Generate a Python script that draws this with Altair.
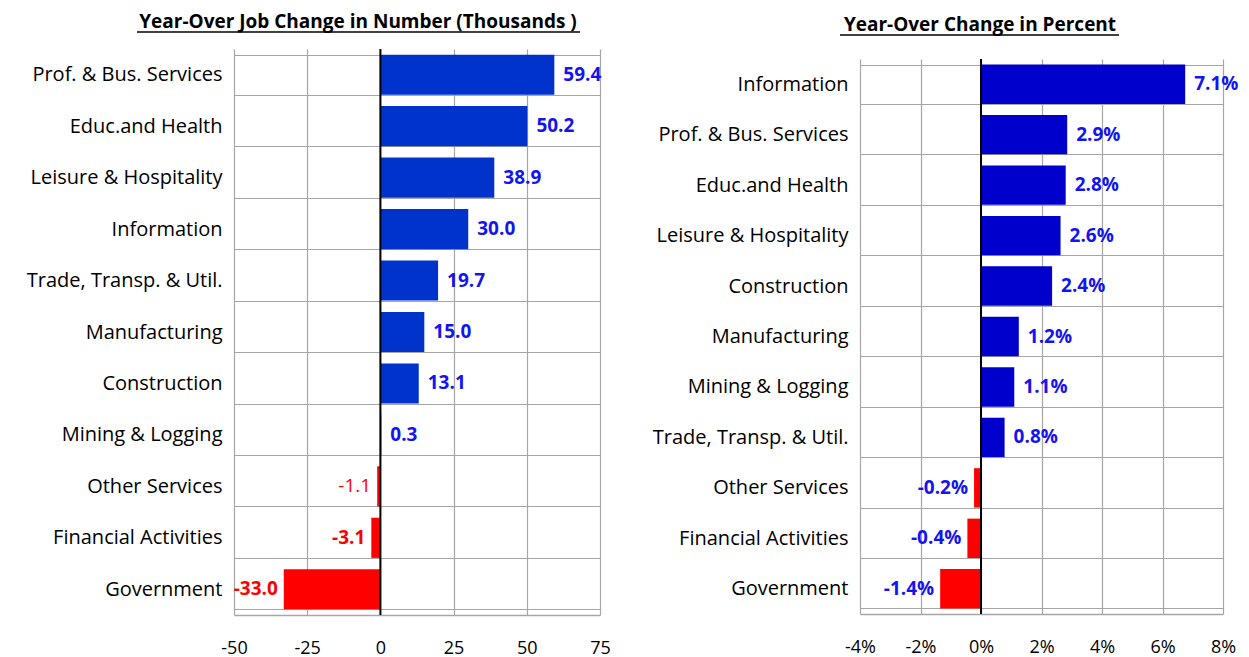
import altair as alt
import pandas as pd

FONT = "Open Sans"

num_categories = ["Prof. & Bus. Services", "Educ.and Health", "Leisure & Hospitality",
                  "Information", "Trade, Transp. & Util.", "Manufacturing", "Construction",
                  "Mining & Logging", "Other Services", "Financial Activities", "Government"]
num_values = [59.4, 50.2, 38.9, 30.0, 19.7, 15.0, 13.1, 0.3, -1.1, -3.1, -33.0]
num_ticks = [-50, -25, 0, 25, 50, 75]

pct_categories = ["Information", "Prof. & Bus. Services", "Educ.and Health",
                  "Leisure & Hospitality", "Construction", "Manufacturing", "Mining & Logging",
                  "Trade, Transp. & Util.", "Other Services", "Financial Activities", "Government"]
pct_values = [6.75, 2.85, 2.8, 2.63, 2.35, 1.25, 1.1, 0.78, -0.23, -0.45, -1.35]
pct_labels = ["7.1%", "2.9%", "2.8%", "2.6%", "2.4%", "1.2%", "1.1%", "0.8%", "-0.2%", "-0.4%", "-1.4%"]
pct_ticks = [-4, -2, 0, 2, 4, 6, 8]

GRID = "#A6A6A6"
LBL_BLUE = "#1414F0"
YLAB = 20
VLAB = 19
XLAB = 18

df_num = pd.DataFrame({"cat": num_categories, "value": num_values})
df_num["label"] = [f"{v:.1f}" for v in num_values]
df_pct = pd.DataFrame({"cat": pct_categories, "value": pct_values, "label": pct_labels})


def make_panel(df, cats, domain, ticks, w, h, extent, bar_blue, label_expr, neg_color, xpad):
    y = alt.Y("cat:N", sort=cats, title=None,
              scale=alt.Scale(paddingInner=0.22, paddingOuter=0.11),
              axis=alt.Axis(labelFont=FONT, labelFontSize=YLAB, labelColor="black",
                            labelPadding=12, ticks=False, domain=False, grid=True,
                            gridColor=GRID, gridWidth=1.2, tickBand="extent",
                            minExtent=extent, maxExtent=extent, labelLimit=400))
    x = alt.X("value:Q", title=None,
              scale=alt.Scale(domain=domain, nice=False, zero=False),
              axis=alt.Axis(values=ticks, grid=True, gridColor=GRID, gridWidth=1.2,
                            ticks=False, domain=True, domainColor=GRID, domainWidth=1.5,
                            labelFont=FONT, labelFontSize=XLAB, labelColor="black",
                            labelPadding=xpad, labelExpr=label_expr, labelFlush=False,
                            labelOverlap=False))
    base = alt.Chart(df)
    bars = base.mark_bar().encode(
        y=y, x=x, x2=alt.datum(0),
        color=alt.condition("datum.value > 0", alt.value(bar_blue), alt.value("#FF0000")))
    zero = alt.Chart(pd.DataFrame({"z": [0]})).mark_rule(color="black", strokeWidth=2).encode(
        x=alt.X("z:Q", scale=alt.Scale(domain=domain, nice=False, zero=False)))
    pos = base.transform_filter("datum.value >= 0").mark_text(
        align="left", baseline="middle", dx=9, font=FONT, fontSize=VLAB, fontWeight="bold",
        color=LBL_BLUE).encode(y=alt.Y("cat:N", sort=cats), x="value:Q", text="label:N")
    neg_bold = base.transform_filter("datum.value < 0 && datum.value != -1.1").mark_text(
        align="right", baseline="middle", dx=-6, font=FONT, fontSize=VLAB, fontWeight="bold",
        color=neg_color).encode(y=alt.Y("cat:N", sort=cats), x="value:Q", text="label:N")
    layers = [bars, zero, pos, neg_bold]
    if neg_color == "#FF0000":
        neg_plain = base.transform_filter("datum.value == -1.1").mark_text(
            align="right", baseline="middle", dx=-6, font=FONT, fontSize=VLAB,
            color=neg_color).encode(y=alt.Y("cat:N", sort=cats), x="value:Q", text="label:N")
        layers.append(neg_plain)
    return alt.layer(*layers).properties(width=w, height=h)


def make_title(text, w, h, cx, cy, ux1, ux2, uy):
    t = alt.Chart(pd.DataFrame({"t": [text]})).mark_text(
        font=FONT, fontSize=19, fontWeight="bold", color="black", align="center",
        baseline="middle").encode(text="t:N", x=alt.value(cx), y=alt.value(cy))
    u = alt.Chart(pd.DataFrame({"t": [text]})).mark_rule(color="black", strokeWidth=1.5).encode(
        x=alt.value(ux1), x2=alt.value(ux2), y=alt.value(uy))
    return alt.layer(t, u).properties(width=w, height=h)


left_plot = make_panel(df_num, num_categories, [-50, 75], num_ticks, 366, 566, 226, "#0033CC",
                       "'' + datum.value", "#FF0000", 24)
right_plot = make_panel(df_pct, pct_categories, [-4, 8], pct_ticks, 363, 555, 226, "#0000CC",
                        "datum.value + '%'", LBL_BLUE, 24)

left_title = make_title("Year-Over Job Change in Number (Thousands )", 366, 31,
                        124, 14, -97, 346, 24)
right_title = make_title("Year-Over Change in Percent", 363, 41,
                         120, 17, -20, 259, 27)

left = alt.vconcat(left_title, left_plot, spacing=0)
right = alt.vconcat(right_title, right_plot, spacing=0)

chart = alt.hconcat(left, right, spacing=23).properties(
    padding=0, background="white"
).configure_view(strokeOpacity=0)

chart.save("out.html", embed_options={"renderer": "svg", "actions": False})
